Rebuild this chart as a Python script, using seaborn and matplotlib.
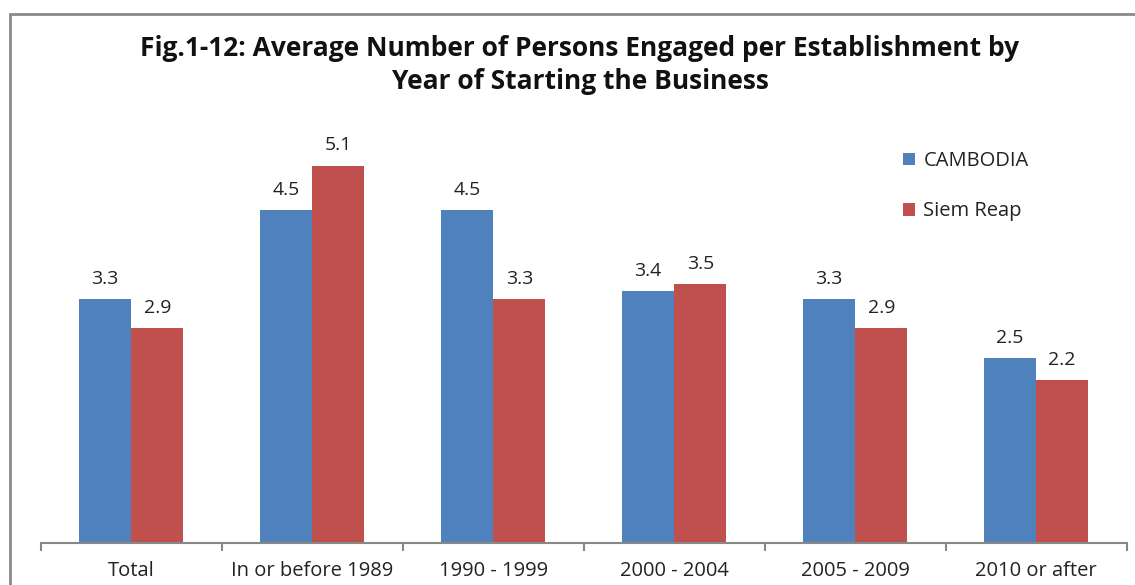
import pandas as pd
import numpy as np
import matplotlib.pyplot as plt
import matplotlib.patches as mpatches
import seaborn as sns

categories = ["Total", "In or before 1989", "1990 - 1999", "2000 - 2004", "2005 - 2009", "2010 or after"]
cambodia = [3.3, 4.5, 4.5, 3.4, 3.3, 2.5]
siem_reap = [2.9, 5.1, 3.3, 3.5, 2.9, 2.2]
series = ["CAMBODIA", "Siem Reap"]

df = pd.DataFrame({
    "period": categories * 2,
    "value": cambodia + siem_reap,
    "area": [series[0]] * len(categories) + [series[1]] * len(categories),
})

sns.set_style("white")
plt.rcParams["font.family"] = ["Open Sans", "DejaVu Sans"]

W, H = 1135, 585
fig = plt.figure(figsize=(W / 100, H / 100), dpi=100)
ax = fig.add_axes([40.7 / W, 42 / H, 1086 / W, 444 / H])

sns.barplot(data=df, x="period", y="value", hue="area", order=categories, hue_order=series,
            palette=["#4F81BD", "#C0504D"], width=0.575, gap=0, saturation=1,
            errorbar=None, linewidth=0, ax=ax)

for c in ax.containers:
    ax.bar_label(c, fmt="%.1f", padding=8, fontsize=14, color="#222222")

ax.set_ylim(0, 6)
ax.set_xlim(-0.5, len(categories) - 0.5)
ax.set_xlabel("")
ax.set_ylabel("")
ax.set_yticks([])
for s in ["top", "right", "left"]:
    ax.spines[s].set_visible(False)
ax.spines["bottom"].set_color("#888888")
ax.spines["bottom"].set_linewidth(1.5)

ax.set_xticks(np.arange(len(categories)))
ax.set_xticklabels(categories)
ax.tick_params(axis="x", which="major", bottom=True, length=0, pad=13, labelsize=14.5, labelcolor="#222222")
ax.set_xticks(np.arange(len(categories) + 1) - 0.5, minor=True)
ax.tick_params(axis="x", which="minor", bottom=True, length=6, width=1.5, color="#888888", direction="out")

leg = ax.legend(loc="upper left", bbox_to_anchor=(885 / W, 1 - 133 / H), bbox_transform=fig.transFigure,
                frameon=False, fontsize=14.5, handlelength=0.6, handleheight=0.6, handletextpad=0.4,
                labelspacing=1.5)
for t in leg.get_texts():
    t.set_color("#222222")

fig.text(0.511, 1 - 48 / H, "Fig.1-12: Average Number of Persons Engaged per Establishment by",
         ha="center", va="center", fontsize=19, fontweight="bold", color="#111111")
fig.text(0.511, 1 - 82 / H, "Year of Starting the Business",
         ha="center", va="center", fontsize=19, fontweight="bold", color="#111111")

frame = mpatches.Rectangle((10 / W, -0.1), 1.2, 1.1 - 14 / H, transform=fig.transFigure,
                           fill=False, edgecolor="#8a8a8a", linewidth=2, clip_on=False)
fig.patches.append(frame)

fig.savefig("out.png", dpi=100)
